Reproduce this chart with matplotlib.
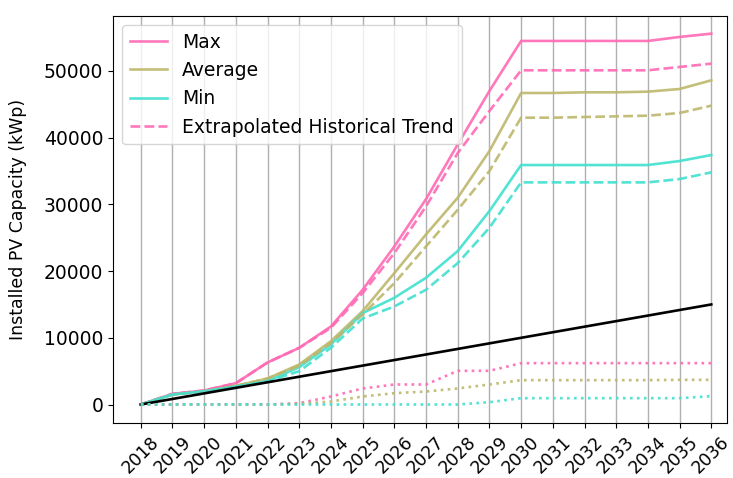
import matplotlib
matplotlib.use("Agg")
import matplotlib.pyplot as plt
import numpy as np

years = list(range(2018, 2037))

# scenario capacities (kWp)
max_vals = [0, 1600, 2100, 3200, 6300, 8500, 11700, 17200, 23700, 30800, 39000, 47000,
            54500, 54500, 54500, 54500, 54500, 55100, 55600]
avg_vals = [0, 1500, 2000, 2800, 3900, 6000, 9500, 14000, 19700, 25500, 31000, 38000,
            46700, 46700, 46800, 46800, 46900, 47300, 48600]
min_vals = [0, 1500, 2000, 2700, 3500, 5600, 9000, 13700, 16000, 19000, 23000, 29000,
            35900, 35900, 35900, 35900, 35900, 36500, 37400]

# extrapolated historical trend
max_trend = [0, 1600, 2100, 3200, 6300, 8500, 11500, 16700, 22700, 29700, 37700, 44000,
             50100, 50100, 50100, 50100, 50100, 50600, 51100]
avg_trend = [0, 1500, 2000, 2800, 3900, 5800, 9200, 13500, 18200, 23700, 29200, 35000,
             43000, 43000, 43100, 43200, 43300, 43700, 44800]
min_trend = [0, 1500, 2000, 2700, 3500, 5000, 8500, 12900, 14700, 17200, 21200, 26500,
             33300, 33300, 33300, 33300, 33300, 33800, 34800]

# baseline
baseline = [0, 833, 1667, 2500, 3333, 4167, 5000, 5833, 6667, 7500, 8333, 9167,
            10000, 10833, 11667, 12500, 13333, 14167, 15000]

# dotted lower series
max_low = [0, 0, 0, 0, 0, 200, 1200, 2400, 3000, 3000, 5050, 5050,
           6200, 6200, 6200, 6200, 6200, 6200, 6200]
avg_low = [0, 0, 0, 0, 0, 100, 450, 1200, 1700, 1950, 2400, 3000,
           3650, 3650, 3650, 3650, 3650, 3700, 3700]
min_low = [0, 0, 0, 0, 0, 0, 0, 0, 0, 0, 0, 350,
           950, 950, 950, 950, 950, 950, 1250]

c_max = '#ff69b4'
c_avg = '#bdb76b'
c_min = '#40e0d0'
lw = 1.9

fig = plt.figure(figsize=(7.33, 4.78), dpi=100)
ax = fig.add_axes([0.154, 0.115, 0.838, 0.852])

ax.plot(years, max_vals, color=c_max, lw=lw, alpha=0.9, label='Max')
ax.plot(years, avg_vals, color=c_avg, lw=lw, alpha=0.9, label='Average')
ax.plot(years, min_vals, color=c_min, lw=lw, alpha=0.9, label='Min')
ax.plot(years, max_trend, color=c_max, lw=lw, alpha=0.9, ls='--',
        label='Extrapolated Historical Trend')
ax.plot(years, avg_trend, color=c_avg, lw=lw, alpha=0.9, ls='--')
ax.plot(years, min_trend, color=c_min, lw=lw, alpha=0.9, ls='--')
ax.plot(years, baseline, color='black', lw=lw)
ax.plot(years, max_low, color=c_max, lw=lw, alpha=0.9, ls=':')
ax.plot(years, avg_low, color=c_avg, lw=lw, alpha=0.9, ls=':')
ax.plot(years, min_low, color=c_min, lw=lw, alpha=0.9, ls=':')

ax.set_xlim(2017.12, 2036.5)
ax.set_ylim(-2775, 58275)
ax.set_xticks(years)
ax.set_xticklabels([str(y) for y in years], rotation=45, fontsize=12.5)
ax.tick_params(axis='y', labelsize=13.5)
ax.set_ylabel('Installed PV Capacity (kWp)', fontsize=12.5)
ax.yaxis.set_label_coords(-0.14, 0.5)
ax.grid(axis='x', color='#b0b0b0', lw=1)
ax.legend(loc='upper left', fontsize=13.5)

fig.savefig('out.png', dpi=100)
